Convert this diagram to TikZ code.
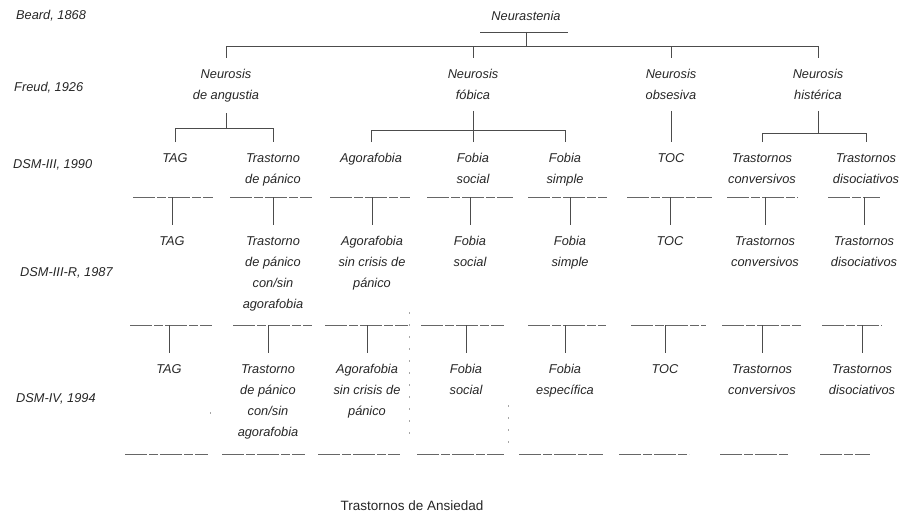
\documentclass[tikz,border=0pt]{standalone}
\usepackage{fontspec}
\setmainfont{Liberation Sans}
\usepackage{tikz}

\begin{document}
\begin{tikzpicture}[
    x=1pt, y=-1pt,
    every node/.style={font=\fontsize{12.8}{21}\selectfont\itshape, text=black!85},
    trastorno/.style={align=center, anchor=north, inner xsep=1pt, inner ysep=11pt},
    etapa/.style={anchor=base west, inner sep=0pt},
    linea/.style={draw=black!70, line width=0.7pt},
    corte/.style={draw=black!60, line width=0.7pt, dash pattern=on 22pt off 2pt on 9pt off 2pt},
    rastro/.style={draw=black!35, line width=0.6pt, dash pattern=on 2pt off 10pt}
]
\useasboundingbox (0,0) rectangle (899,532);

% ETAPAS (COLUMNA IZQUIERDA)
\node[etapa] (beard) at (16,20) {Beard, 1868};
\node[etapa] (freud) at (14,92) {Freud, 1926};
\node[etapa] (dsmiii) at (13,168) {DSM-III, 1990};
\node[etapa] (dsmiiir) at (20,276) {DSM-III-R, 1987};
\node[etapa] (dsmiv) at (16,402) {DSM-IV, 1994};

% BEARD Y FREUD
\node[trastorno, anchor=south] (neurastenia) at (526,32) {Neurastenia};
\node[trastorno] (angustia) at (226,58) {Neurosis\\de angustia};
\node[trastorno] (fobica) at (473,58) {Neurosis\\fóbica};
\node[trastorno] (obsesiva) at (671,58) {Neurosis\\obsesiva};
\node[trastorno] (histerica) at (818,58) {Neurosis\\histérica};

% DSM-III
\node[trastorno] (tag80) at (175,142) {TAG};
\node[trastorno] (panico80) at (273,142) {Trastorno\\de pánico};
\node[trastorno] (agora80) at (371,142) {Agorafobia};
\node[trastorno] (social80) at (473,142) {Fobia\\social};
\node[trastorno] (simple80) at (565,142) {Fobia\\simple};
\node[trastorno] (toc80) at (671,142) {TOC};
\node[trastorno] (conver80) at (762,142) {Trastornos\\conversivos};
\node[trastorno] (disoc80) at (866,142) {Trastornos\\disociativos};

% DSM-III-R
\node[trastorno] (tag87) at (172,225) {TAG};
\node[trastorno] (panico87) at (273,225) {Trastorno\\de pánico\\con/sin\\agorafobia};
\node[trastorno] (agora87) at (372,225) {Agorafobia\\sin crisis de\\pánico};
\node[trastorno] (social87) at (470,225) {Fobia\\social};
\node[trastorno] (simple87) at (570,225) {Fobia\\simple};
\node[trastorno] (toc87) at (670,225) {TOC};
\node[trastorno] (conver87) at (765,225) {Trastornos\\conversivos};
\node[trastorno] (disoc87) at (864,225) {Trastornos\\disociativos};

% DSM-IV
\node[trastorno] (tag94) at (169,353) {TAG};
\node[trastorno] (panico94) at (268,353) {Trastorno\\de pánico\\con/sin\\agorafobia};
\node[trastorno] (agora94) at (367,353) {Agorafobia\\sin crisis de\\pánico};
\node[trastorno] (social94) at (466,353) {Fobia\\social};
\node[trastorno] (espec94) at (565,353) {Fobia\\específica};
\node[trastorno] (toc94) at (665,353) {TOC};
\node[trastorno] (conver94) at (762,353) {Trastornos\\conversivos};
\node[trastorno] (disoc94) at (862,353) {Trastornos\\disociativos};

% CONEXIONES
\coordinate (barra1) at (0,46);
\coordinate (barra2) at (0,128);
\coordinate (barra3) at (0,130);
\coordinate (barra4) at (0,133);
\draw[linea] ([xshift=-46pt]neurastenia.south) -- ([xshift=42pt]neurastenia.south);
\draw[linea] (neurastenia.south) -- (neurastenia.south |- barra1);
\draw[linea] (angustia.north) |- (barra1 -| histerica.north) -- (histerica.north);
\foreach \n in {fobica, obsesiva}
    \draw[linea] (\n.north) -- (\n.north |- barra1);
\draw[linea] (angustia.south) -- (angustia.south |- barra2);
\draw[linea] (tag80.north) |- (barra2 -| panico80.north) -- (panico80.north);
\draw[linea] (fobica.south) -- (fobica.south |- barra3);
\draw[linea] (agora80.north) |- (barra3 -| simple80.north) -- (simple80.north);
\draw[linea] (social80.north) -- (social80.north |- barra3);
\draw[linea] (obsesiva.south) -- (toc80.north);
\draw[linea] (histerica.south) -- (histerica.south |- barra4);
\draw[linea] (conver80.north) |- (barra4 -| disoc80.north) -- (disoc80.north);

% CORTES ENTRE ETAPAS
\coordinate (corte1) at (0,197);
\coordinate (corte2) at (0,325);
\coordinate (cierre) at (0,454);
\foreach \n/\a/\b in {tag87/39/41, panico87/43/39, agora87/42/38, social87/43/43,
        simple87/42/37, toc87/43/42, conver87/38/33, disoc87/36/16} {
    \draw[corte] ([xshift=-\a pt]\n.north |- corte1) -- ([xshift=\b pt]\n.north |- corte1);
    \draw[linea] (\n.north |- corte1) -- (\n.north);
}
\foreach \n/\a/\b in {tag94/39/43, panico94/35/44, agora94/42/41, social94/45/38,
        espec94/37/41, toc94/34/41, conver94/40/39, disoc94/40/20} {
    \draw[corte] ([xshift=-\a pt]\n.north |- corte2) -- ([xshift=\b pt]\n.north |- corte2);
    \draw[linea] (\n.north |- corte2) -- (\n.north);
}
\foreach \n/\a/\b in {tag94/44/39, panico94/46/37, agora94/49/33, social94/49/38,
        espec94/46/38, toc94/46/24, conver94/42/26, disoc94/42/8}
    \draw[corte] ([xshift=-\a pt]\n.north |- cierre) -- ([xshift=\b pt]\n.north |- cierre);

% MARCAS SUELTAS
\draw[rastro] (409,312) -- (409,440);
\draw[rastro] (508,405) -- (508,450);
\draw[rastro] (210,412) -- (210,422);

\node[font=\fontsize{13.5}{16}\selectfont] (titulo) at (412,506) {Trastornos de Ansiedad};

\end{tikzpicture}
\end{document}
